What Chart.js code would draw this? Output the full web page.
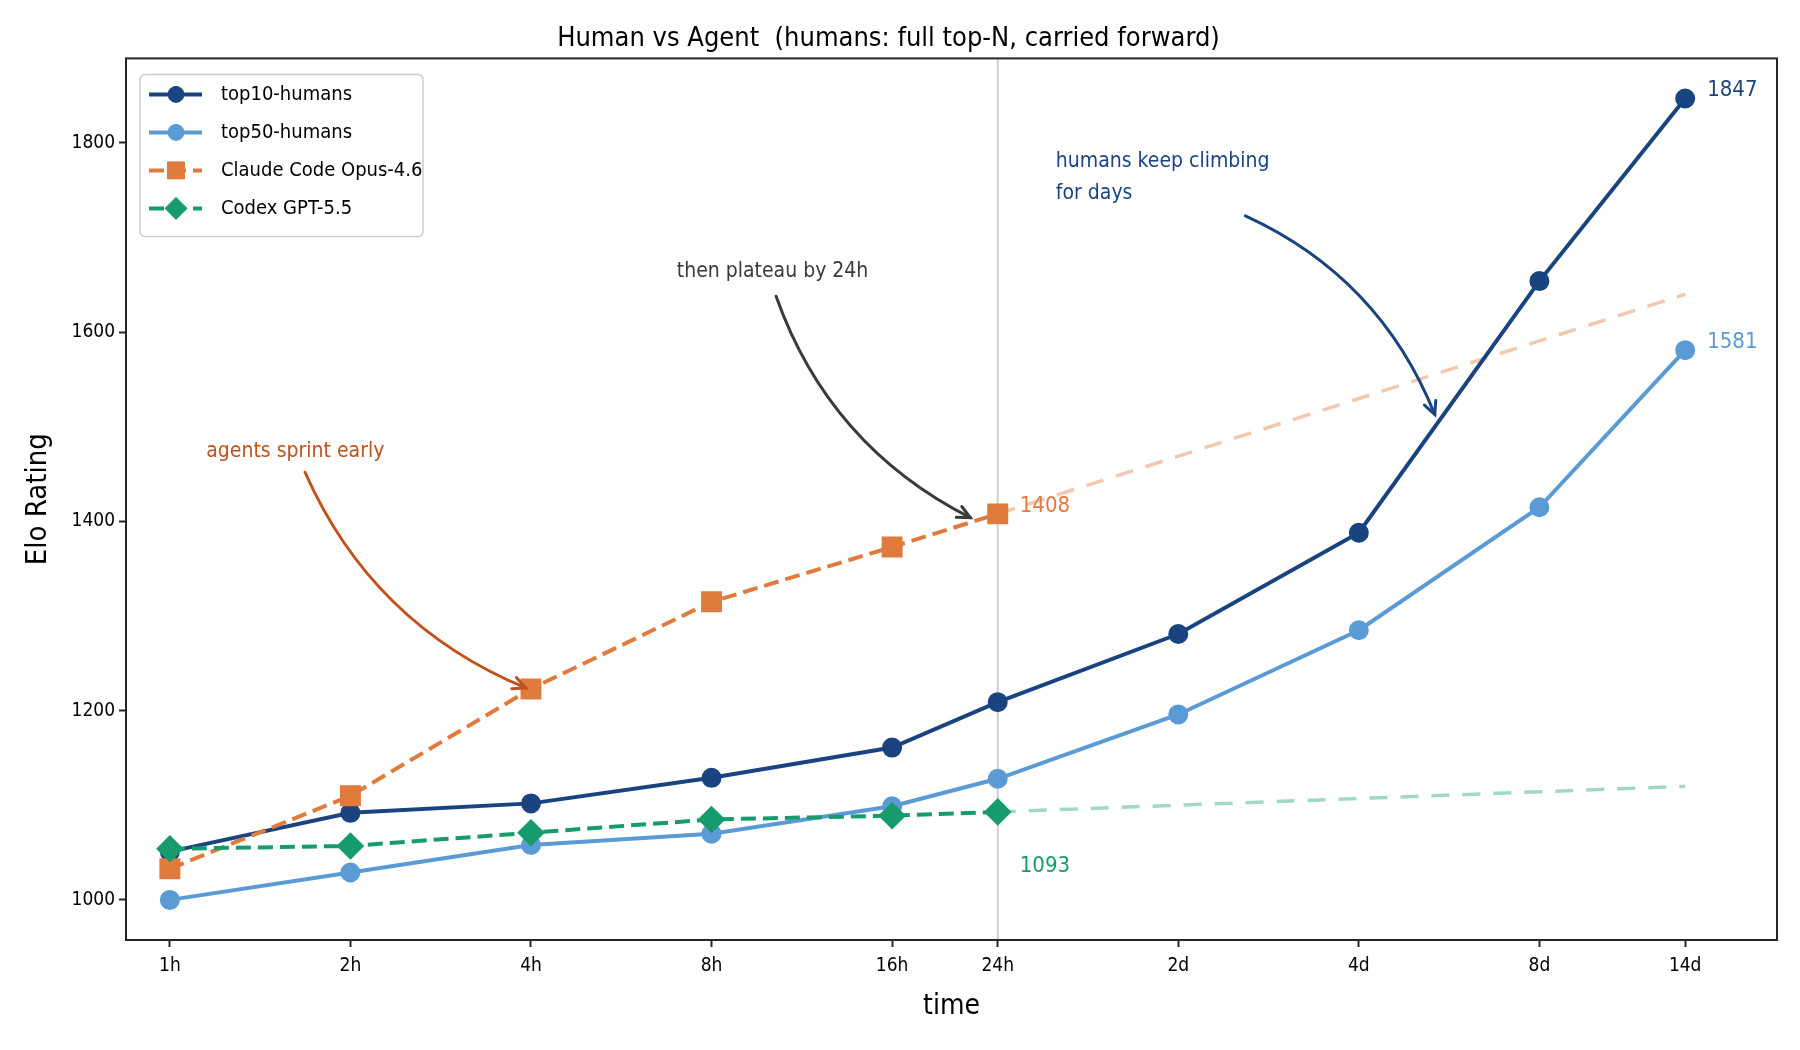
<!DOCTYPE html>
<html>
<head>
<meta charset="utf-8">
<script src="https://cdn.jsdelivr.net/npm/chart.js@4.4.1/dist/chart.umd.min.js"></script>
<style>
  html, body { margin: 0; padding: 0; background: #fff; }
  #wrap { width: 1800px; height: 1050px; }
</style>
</head>
<body>
<div id="wrap"><canvas id="eloChart" width="1800" height="1050"></canvas></div>
<script>
// time axis (hours, log scale) and its labels
var hours = [1, 2, 4, 8, 16, 24, 48, 96, 192, 336];
var tickLabels = ["1h", "2h", "4h", "8h", "16h", "24h", "2d", "4d", "8d", "14d"];
var yTicks = [1000, 1200, 1400, 1600, 1800];

// human series (full top-N, carried forward)
var top10 = [1051, 1092, 1102, 1129, 1161, 1209, 1281, 1388, 1654, 1847];
var top50 = [1000, 1029, 1058, 1070, 1099, 1128, 1196, 1285, 1415, 1581];

// agent series (stop at 24h)
var agentHours = [1, 2, 4, 8, 16, 24];
var claude = [1033, 1110, 1223, 1315, 1373, 1408];
var codex = [1054, 1057, 1071, 1085, 1089, 1093];

// faded extrapolation after 24h
var projHours = [24, 336];
var claudeProj = [1408, 1640];
var codexProj = [1093, 1120];

var FONT = '"Liberation Sans Narrow", "DejaVu Sans Condensed", "Noto Sans", sans-serif';
var NAVY = "#1a4480", LIGHT = "#5b9bd5", ORANGE = "#e07b3d", GREEN = "#169c6c";

function pts(xs, ys) {
  return xs.map(function (x, i) { return { x: x, y: ys[i] }; });
}

function fontStr(size) { return size + "px " + FONT; }

// 24h divider
var dividerPlugin = {
  id: "divider",
  beforeDatasetsDraw: function (chart) {
    var c = chart.ctx, a = chart.chartArea, x = chart.scales.x.getPixelForValue(24);
    c.save();
    c.strokeStyle = "#cfcfcf";
    c.lineWidth = 2;
    c.beginPath();
    c.moveTo(x, a.top);
    c.lineTo(x, a.bottom);
    c.stroke();
    c.restore();
  }
};

function curvedArrow(c, sx, sy, ex, ey, rad, color) {
  var mx = (sx + ex) / 2, my = (sy + ey) / 2;
  var cx = mx - rad * (ey - sy), cy = my + rad * (ex - sx);
  c.save();
  c.strokeStyle = color;
  c.lineWidth = 3;
  c.lineCap = "round";
  c.beginPath();
  c.moveTo(sx, sy);
  c.quadraticCurveTo(cx, cy, ex, ey);
  c.stroke();
  var ang = Math.atan2(ey - cy, ex - cx), hl = 14, spread = 0.45;
  c.beginPath();
  c.moveTo(ex - hl * Math.cos(ang - spread), ey - hl * Math.sin(ang - spread));
  c.lineTo(ex, ey);
  c.lineTo(ex - hl * Math.cos(ang + spread), ey - hl * Math.sin(ang + spread));
  c.stroke();
  c.restore();
}

// annotations, end labels, frame and legend
var notesPlugin = {
  id: "notes",
  afterDatasetsDraw: function (chart) {
    var c = chart.ctx, xs = chart.scales.x, ys = chart.scales.y;
    function X(h) { return xs.getPixelForValue(h); }
    function Y(v) { return ys.getPixelForValue(v); }

    c.save();
    c.textBaseline = "middle";
    c.textAlign = "left";
    c.font = fontStr(21);

    c.fillStyle = "#c0521b";
    c.fillText("agents sprint early", X(1.15), Y(1474));
    curvedArrow(c, X(1.68), Y(1452), X(3.92), Y(1224), 0.2, "#c0521b");

    c.fillStyle = "#3a3a3a";
    c.fillText("then plateau by 24h", X(7.0), Y(1664));
    curvedArrow(c, X(10.25), Y(1638), X(21.6), Y(1404), 0.2, "#3a3a3a");

    c.fillStyle = NAVY;
    c.fillText("humans keep climbing", X(30), Y(1780));
    c.fillText("for days", X(30), Y(1780) + 32);
    curvedArrow(c, X(62.1), Y(1723), X(128.5), Y(1513), -0.2, NAVY);

    // end values
    c.font = fontStr(22);
    c.fillStyle = NAVY;
    c.fillText(String(top10[top10.length - 1]), X(336) + 22, Y(top10[top10.length - 1]) - 8);
    c.fillStyle = LIGHT;
    c.fillText(String(top50[top50.length - 1]), X(336) + 22, Y(top50[top50.length - 1]) - 8);
    c.fillStyle = ORANGE;
    c.fillText(String(claude[claude.length - 1]), X(24) + 22, Y(claude[claude.length - 1]) - 8);
    c.fillStyle = GREEN;
    c.fillText(String(codex[codex.length - 1]), X(24) + 22, Y(codex[codex.length - 1]) + 54);
    c.restore();
  },
  afterDraw: function (chart) {
    var c = chart.ctx, a = chart.chartArea;
    c.save();
    c.strokeStyle = "#262626";
    c.lineWidth = 2;
    c.strokeRect(a.left, a.top, a.right - a.left, a.bottom - a.top);

    // legend box
    var bx = a.left + 14, by = a.top + 16, bw = 283, bh = 162;
    c.fillStyle = "rgba(255,255,255,0.85)";
    c.strokeStyle = "#cccccc";
    c.lineWidth = 1.5;
    c.beginPath();
    c.roundRect(bx, by, bw, bh, 5);
    c.fill();
    c.stroke();

    var sets = chart.data.datasets.filter(function (d) { return !d.isProjection; });
    sets.forEach(function (d, i) {
      var y = by + 20 + i * 38;
      c.save();
      c.strokeStyle = d.borderColor;
      c.lineWidth = d.borderWidth;
      c.setLineDash(d.borderDash || []);
      c.beginPath();
      c.moveTo(bx + 9, y);
      c.lineTo(bx + 62, y);
      c.stroke();
      c.setLineDash([]);
      c.fillStyle = d.borderColor;
      c.lineWidth = 1;
      Chart.helpers.drawPoint(c, { pointStyle: d.pointStyle, radius: d.pointRadius, rotation: 0, borderWidth: 1 }, bx + 36, y);
      c.restore();
      c.fillStyle = "#000";
      c.font = fontStr(20);
      c.textBaseline = "middle";
      c.textAlign = "left";
      c.fillText(d.label, bx + 81, y);
    });
    c.restore();
  }
};

var ctx = document.getElementById("eloChart").getContext("2d");
new Chart(ctx, {
  type: "line",
  data: {
    datasets: [
      {
        label: "top10-humans", data: pts(hours, top10), order: 4,
        borderColor: NAVY, backgroundColor: NAVY, borderWidth: 4,
        pointStyle: "circle", pointRadius: 8, pointBackgroundColor: NAVY, pointBorderColor: NAVY
      },
      {
        label: "top50-humans", data: pts(hours, top50), order: 3,
        borderColor: LIGHT, backgroundColor: LIGHT, borderWidth: 4,
        pointStyle: "circle", pointRadius: 8, pointBackgroundColor: LIGHT, pointBorderColor: LIGHT
      },
      {
        label: "Claude Code Opus-4.6", data: pts(agentHours, claude), order: 2,
        borderColor: ORANGE, backgroundColor: ORANGE, borderWidth: 4, borderDash: [15, 7],
        pointStyle: "rect", pointRadius: 12, pointBackgroundColor: ORANGE, pointBorderColor: ORANGE
      },
      {
        label: "Codex GPT-5.5", data: pts(agentHours, codex), order: 1,
        borderColor: GREEN, backgroundColor: GREEN, borderWidth: 4, borderDash: [15, 7],
        pointStyle: "rectRot", pointRadius: 11, pointBackgroundColor: GREEN, pointBorderColor: GREEN
      },
      {
        label: "claude-proj", isProjection: true, data: pts(projHours, claudeProj), order: 5,
        borderColor: "rgba(224,123,61,0.42)", borderWidth: 3.5, borderDash: [18, 13], pointRadius: 0
      },
      {
        label: "codex-proj", isProjection: true, data: pts(projHours, codexProj), order: 5,
        borderColor: "rgba(22,156,108,0.4)", borderWidth: 3.5, borderDash: [18, 13], pointRadius: 0
      }
    ]
  },
  options: {
    responsive: false,
    animation: false,
    layout: { padding: { top: 0, right: 23, bottom: 0, left: 0 } },
    plugins: {
      legend: { display: false },
      tooltip: { enabled: false },
      title: {
        display: true,
        text: "Human vs Agent  (humans: full top-N, carried forward)",
        color: "#000",
        font: { family: FONT, size: 27, weight: "normal" },
        padding: { top: 23, bottom: 3 }
      }
    },
    scales: {
      x: {
        type: "logarithmic",
        min: 0.845,
        max: 478,
        afterBuildTicks: function (axis) {
          axis.ticks = hours.map(function (h) { return { value: h }; });
        },
        afterFit: function (axis) { axis.height = 110; },
        ticks: {
          autoSkip: false, maxRotation: 0, minRotation: 0, padding: 8, color: "#000",
          font: { family: FONT, size: 19 },
          callback: function (v, i) { return tickLabels[i]; }
        },
        grid: { display: true, drawOnChartArea: false, drawTicks: true, tickLength: 7, tickWidth: 2, tickColor: "#262626" },
        border: { display: false },
        title: { display: true, text: "time", color: "#000", font: { family: FONT, size: 28 }, padding: { top: 0, bottom: 26 } }
      },
      y: {
        min: 957.6,
        max: 1889.4,
        afterBuildTicks: function (axis) {
          axis.ticks = yTicks.map(function (v) { return { value: v }; });
        },
        afterFit: function (axis) { axis.width = 126; },
        ticks: {
          padding: 4, color: "#000", font: { family: FONT, size: 19 },
          callback: function (v) { return String(v); }
        },
        grid: { display: true, drawOnChartArea: false, drawTicks: true, tickLength: 7, tickWidth: 2, tickColor: "#262626" },
        border: { display: false },
        title: { display: true, text: "Elo Rating", color: "#000", font: { family: FONT, size: 29 }, padding: { top: 21, bottom: 0 } }
      }
    }
  },
  plugins: [dividerPlugin, notesPlugin]
});
</script>
</body>
</html>
